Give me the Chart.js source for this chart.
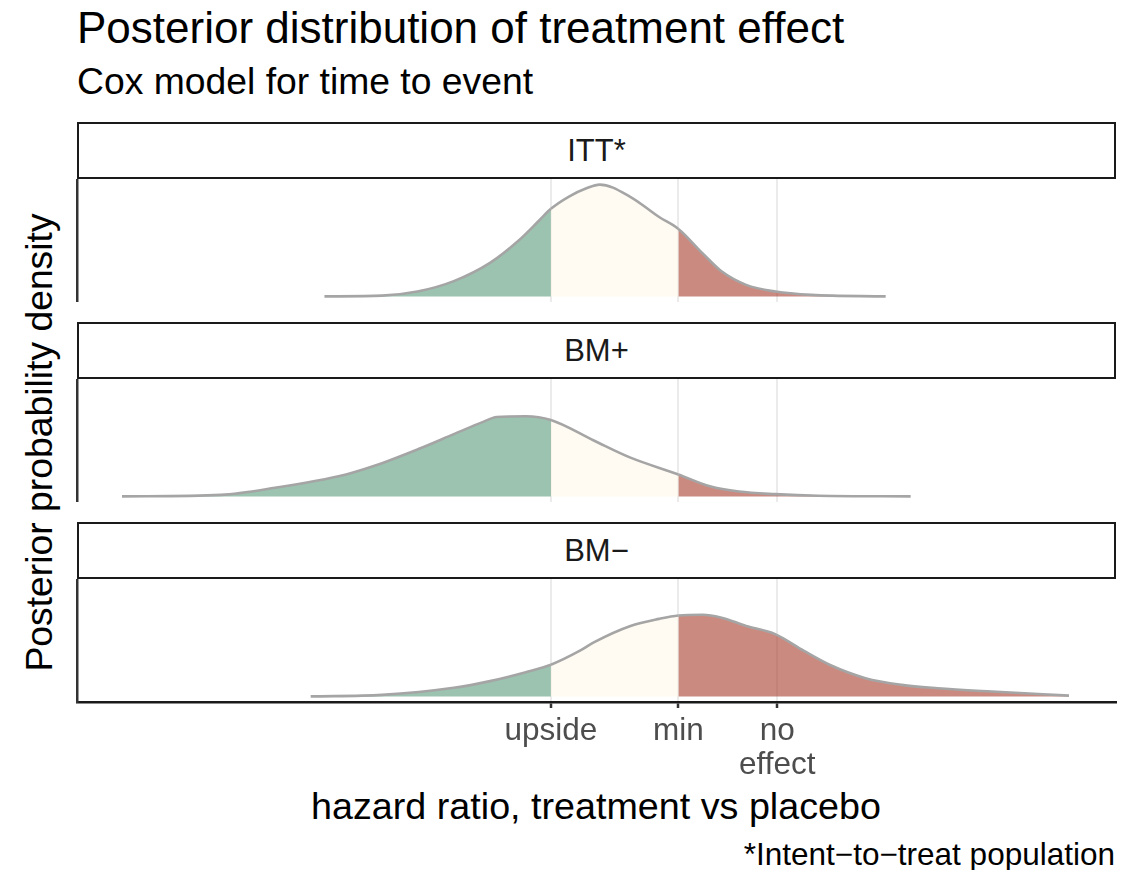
<!DOCTYPE html>
<html>
<head>
<meta charset="utf-8">
<script src="https://cdn.jsdelivr.net/npm/chart.js@4.4.1/dist/chart.umd.min.js"></script>
<style>
html,body{margin:0;padding:0;background:#fff;}
body{width:1140px;height:870px;position:relative;overflow:hidden;font-family:"Liberation Sans",Arial,Helvetica,sans-serif;}
.t{position:absolute;white-space:nowrap;line-height:1;}
.strip{position:absolute;left:77px;width:1039px;height:57px;box-sizing:border-box;border:2px solid #1a1a1a;background:#fff;display:flex;align-items:center;justify-content:center;font-size:31px;color:#1a1a1a;}
canvas{position:absolute;left:0;display:block;}
</style>
</head>
<body>
<div class="t" style="left:77px;top:6px;font-size:44px;color:#000">Posterior distribution of treatment effect</div>
<div class="t" style="left:77px;top:63px;font-size:37.3px;color:#000">Cox model for time to event</div>
<div class="t" style="left:-261px;top:423.5px;width:600px;height:37px;line-height:37px;text-align:center;font-size:37.3px;color:#000;transform:rotate(-90deg);">Posterior probability density</div>
<div class="t" style="left:296px;top:788px;width:600px;text-align:center;font-size:37.7px;color:#000">hazard ratio, treatment vs placebo</div>
<div class="t" style="right:25px;top:838.5px;font-size:31.5px;color:#000">*Intent−to−treat population</div>
<div id="strips"></div>
<canvas id="c0" width="1140" height="123" style="top:179px"></canvas>
<canvas id="c1" width="1140" height="123" style="top:379px"></canvas>
<canvas id="c2" width="1140" height="203" style="top:579px"></canvas>
<script>
// ---- data ----
const panelLabels = ['ITT*', 'BM+', 'BM−'];
const tickValues = [0.6, 0.8, 1.0];
const tickLabels = ['upside', 'min', ['no', 'effect']];

const ittHR      = [0.36, 0.41, 0.444, 0.482, 0.523, 0.558, 0.585, 0.6, 0.625, 0.651, 0.67, 0.717, 0.766, 0.8, 0.846, 0.881, 0.932, 0.996, 1.08, 1.277];
const ittDensity = [0, 0.02, 0.13, 0.41, 0.90, 1.50, 2.05, 2.35, 2.68, 2.91, 3.00, 2.68, 2.13, 1.81, 1.14, 0.68, 0.31, 0.13, 0.04, 0];

const bmPlusHR      = [0.228, 0.285, 0.322, 0.378, 0.403, 0.445, 0.482, 0.515, 0.531, 0.567, 0.6, 0.661, 0.718, 0.8, 0.859, 0.917, 0.995, 1.097, 1.351];
const bmPlusDensity = [0, 0.04, 0.23, 0.59, 0.82, 1.27, 1.67, 2.00, 2.13, 2.15, 2.05, 1.50, 1.04, 0.59, 0.27, 0.13, 0.06, 0.016, 0];

const bmMinusHR      = [0.349, 0.41, 0.482, 0.523, 0.567, 0.6, 0.64, 0.661, 0.718, 0.766, 0.8, 0.845, 0.88, 0.932, 0.995, 1.062, 1.125, 1.22, 1.324, 1.436, 1.622, 1.931];
const bmMinusDensity = [0, 0.04, 0.23, 0.41, 0.65, 0.85, 1.22, 1.45, 1.89, 2.08, 2.17, 2.19, 2.12, 1.89, 1.67, 1.22, 0.85, 0.49, 0.31, 0.22, 0.13, 0.02];

// ---- axis ranges ----
const xMin = 0.206, xMax = 2.147;
const yMin = -0.15, yMax = 3.15;

// ---- styles ----
const FONT = '"Liberation Sans", Arial, Helvetica, sans-serif';
const lineColor = '#A5A5A5';
const gridColor = '#EBEBEB';
const fillGreen = 'rgba(88,155,123,0.6)';
const fillCream = 'rgba(255,248,233,0.6)';
const fillRed   = 'rgba(168,60,43,0.6)';
const upsideCut = tickValues[0], minCut = tickValues[1];

function regionColor(x) {
  if (x < upsideCut) return fillGreen;
  if (x < minCut) return fillCream;
  return fillRed;
}

// strips
const stripsEl = document.getElementById('strips');
panelLabels.forEach((lab, i) => {
  const d = document.createElement('div');
  d.className = 'strip';
  d.style.top = (122 + 200 * i) + 'px';
  d.textContent = lab;
  stripsEl.appendChild(d);
});

function makePanel(id, hr, dens, showAxis) {
  const pts = hr.map((x, i) => ({x: x, y: dens[i]}));
  return new Chart(document.getElementById(id), {
    type: 'line',
    data: {
      datasets: [{
        data: pts,
        borderColor: lineColor,
        borderWidth: 2.6,
        pointRadius: 0,
        cubicInterpolationMode: 'monotone',
        fill: 'origin',
        backgroundColor: fillCream,
        segment: { backgroundColor: ctx => regionColor(ctx.p0.parsed.x) }
      }]
    },
    options: {
      responsive: false,
      animation: false,
      events: [],
      layout: { padding: { left: 77, right: 24, top: 0, bottom: 0 } },
      plugins: { legend: { display: false }, tooltip: { enabled: false }, title: { display: false } },
      scales: {
        x: {
          type: 'logarithmic',
          min: xMin, max: xMax,
          afterBuildTicks: ax => { ax.ticks = tickValues.map(v => ({ value: v })); },
          afterFit: ax => { if (showAxis) ax.height = 80; },
          grid: { color: gridColor, lineWidth: 2, drawTicks: showAxis, tickLength: 6, tickColor: '#333333', tickWidth: 2.5 },
          border: { display: showAxis, color: '#1a1a1a', width: 2.5 },
          ticks: {
            display: showAxis, autoSkip: false, maxRotation: 0, minRotation: 0, padding: 6,
            color: '#4d4d4d', font: { family: FONT, size: 31.5, lineHeight: 1.08 },
            callback: (v, i) => tickLabels[i]
          }
        },
        y: {
          min: yMin, max: yMax,
          grid: { display: false, drawTicks: false },
          ticks: { display: false },
          border: { display: true, color: '#333333', width: 2.5 }
        }
      }
    }
  });
}

makePanel('c0', ittHR, ittDensity, false);
makePanel('c1', bmPlusHR, bmPlusDensity, false);
makePanel('c2', bmMinusHR, bmMinusDensity, true);
</script>
</body>
</html>
